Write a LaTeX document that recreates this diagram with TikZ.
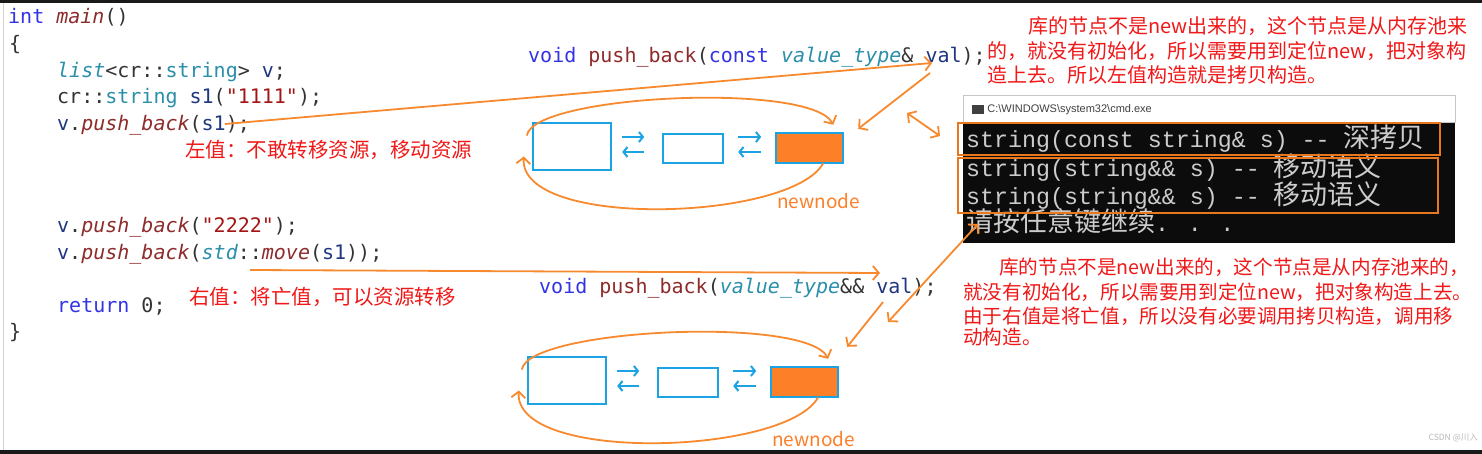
\documentclass[tikz,border=0pt]{standalone}
\usepackage{fontspec}
\setmonofont{DejaVu Sans Mono}
\newfontfamily\cjk{Noto Sans CJK SC}
\newfontfamily\cmdfont{Liberation Mono}
\newfontfamily\uifont{Liberation Sans}
\usetikzlibrary{positioning,arrows.meta,calc}
\definecolor{ckwc}{HTML}{3333E6}
\definecolor{cfnc}{HTML}{8E2B2B}
\definecolor{ctyc}{HTML}{2B8FAA}
\definecolor{cvarc}{HTML}{1F377F}
\definecolor{cstrc}{HTML}{A31515}
\definecolor{cpun}{HTML}{333333}
\definecolor{notered}{HTML}{F01818}
\definecolor{cellblue}{HTML}{1CA3E3}
\definecolor{nodeorange}{HTML}{FD7F28}
\definecolor{arrorange}{HTML}{F7892F}
\definecolor{hiorange}{HTML}{E8781E}
\definecolor{cmdblack}{HTML}{0C0C0C}
\definecolor{cmdgray}{HTML}{CCCCCC}
\newcommand\ckw[1]{\textcolor{ckwc}{#1}}
\newcommand\cfn[1]{\textcolor{cfnc}{\itshape #1}}
\newcommand\cfnup[1]{\textcolor{cfnc}{#1}}
\newcommand\cty[1]{\textcolor{ctyc}{#1}}
\newcommand\cvar[1]{\textcolor{cvarc}{#1}}
\newcommand\cstr[1]{\textcolor{cstrc}{#1}}
\newcommand\cmdcjk[1]{{\cjk\fontsize{27}{28}\selectfont #1}}
\tikzset{
  codeln/.style={anchor=base west,inner sep=0pt,text=cpun,
                 font=\ttfamily\fontsize{20}{24}\selectfont},
  note/.style={anchor=west,inner sep=0pt,text=notered,
               font=\cjk\fontsize{20.5}{24}\selectfont},
  notesm/.style={note,font=\cjk\fontsize{19.6}{24}\selectfont},
  cell/.style={draw=cellblue,line width=2.4pt,inner sep=0pt},
  newcell/.style={cell,fill=nodeorange},
  lnk/.style={draw=cellblue,line width=2pt,-{Straight Barb[length=4pt,width=10pt]}},
  oarr/.style={draw=arrorange,line width=1.8pt,-{Straight Barb[length=6pt,width=14pt]}},
  oboth/.style={oarr,{Straight Barb[length=6pt,width=14pt]}-{Straight Barb[length=6pt,width=14pt]}},
  cmdln/.style={anchor=base west,inner sep=0pt,text=cmdgray,
                font=\cmdfont\fontsize{23.3}{28}\selectfont},
  hilite/.style={draw=hiorange,line width=2pt},
  tag/.style={inner sep=0pt,text=nodeorange,font=\cjk\fontsize{19}{22}\selectfont},
}

\begin{document}
\begin{tikzpicture}[x=1pt,y=-1pt]
  \useasboundingbox[fill=white] (0,0) rectangle (1482,454);
  % screenshot frame
  \fill[black!90] (0,0) rectangle (1482,3);
  \fill[black!90] (0,450) rectangle (1482,454);
  \draw[gray!35] (3,3) -- (3,450);
  % --- source code ---
  \node[codeln] (c-main) at (8,24) {\ckw{int} \cfn{main}()};
  \node[codeln] (c-open) at (9,51) {\{};
  \node[codeln] (c-list) at (57,78) {\cty{\itshape list}<cr::\cty{string}> \cvar{v};};
  \node[codeln] (c-s1) at (57,104) {cr::\cty{string} \cvar{s1}(\cstr{\textquotedbl1111\textquotedbl});};
  \node[codeln] (c-pb1) at (57,131) {\cvar{v}.\cfn{push\_back}(\cvar{s1});};
  \node[codeln] (c-pb2) at (57,233) {\cvar{v}.\cfn{push\_back}(\cstr{\textquotedbl2222\textquotedbl});};
  \node[codeln] (c-pb3) at (57,259) {\cvar{v}.\cfn{push\_back}(\cty{\itshape std}::\cfn{move}(\cvar{s1}));};
  \node[codeln] (c-ret) at (57,312) {\ckw{return} 0;};
  \node[codeln] (c-close) at (9,338) {\}};
  % --- the two overloads ---
  \node[codeln] (decl-lv) at (528,63)
       {\ckw{void} \cfnup{push\_back}(\ckw{const} \cty{\itshape value\_type}\& \cvar{val});};
  \node[codeln] (decl-rv) at (539,293)
       {\ckw{void} \cfnup{push\_back}(\cty{\itshape value\_type}\&\& \cvar{val});};
  % --- notes ---
  \node[note] (n-lv) at (185,150) {左值：不敢转移资源，移动资源};
  \node[note] (n-rv) at (189,297) {右值：将亡值，可以资源转移};
  \node[note,font=\cjk\fontsize{20}{24}\selectfont] (n-up1) at (1028,26) {库的节点不是new出来的，这个节点是从内存池来};
  \node[note,font=\cjk\fontsize{20}{24}\selectfont] (n-up2) at (987,51) {的，就没有初始化，所以需要用到定位new，把对象构};
  \node[note,font=\cjk\fontsize{20}{24}\selectfont] (n-up3) at (987,75) {造上去。所以左值构造就是拷贝构造。};
  \node[notesm] (n-dn1) at (999,267) {库的节点不是new出来的，这个节点是从内存池来的，};
  \node[notesm] (n-dn2) at (963,292) {就没有初始化，所以需要用到定位new，把对象构造上去。};
  \node[notesm] (n-dn3) at (963,316) {由于右值是将亡值，所以没有必要调用拷贝构造，调用移};
  \node[notesm] (n-dn4) at (963,337) {动构造。};
  % --- list with new node, twice ---
  \foreach \lname/\dx/\dy/\tg in {up/0/0/29,dn/-5/234/33}{
    \begin{scope}[shift={(\dx,\dy)}]
      \node[cell,minimum width=78pt,minimum height=47pt] (\lname-a) at (572,146.5) {};
      \node[cell,minimum width=60pt,minimum height=29pt] (\lname-b) at (693,148.5) {};
      \node[newcell,minimum width=67pt,minimum height=30pt] (\lname-c) at (809.5,148) {};
      \node[tag,below=\tg pt of \lname-c,xshift=9pt] (\lname-tag) {newnode};
      \draw[lnk] ($(\lname-a.east)+(10,-9.5)$) -- ++(22,0);
      \draw[lnk] ($(\lname-a.east)+(32,5.5)$) -- ++(-22,0);
      \draw[lnk] ($(\lname-b.east)+(14,-11.5)$) -- ++(23,0);
      \draw[lnk] ($(\lname-b.east)+(37,3.5)$) -- ++(-23,0);
      \draw[oarr] ([xshift=-5pt,yshift=11pt]\lname-a.west)
        .. controls +(7,-41) and +(-22,-43) .. ([xshift=-11pt,yshift=7pt]\lname-c.north east);
      \draw[oarr] ([xshift=-21pt,yshift=1pt]\lname-c.south east)
        .. controls +(-32,58) and +(-5,73) .. ([xshift=-8pt,yshift=-10pt]\lname-a.west);
    \end{scope}
  }
  % --- console window ---
  \node[fill=cmdblack,minimum width=492pt,minimum height=120pt,anchor=north west,inner sep=0pt]
       (cmd-body) at (963,123) {};
  \node[draw=gray!45,fill=white,line width=0.8pt,minimum width=492pt,minimum height=27pt,
        anchor=south west,inner sep=0pt] (cmd-bar) at (963,123) {};
  \node[fill=black!75,minimum width=12pt,minimum height=9pt,inner sep=0pt] (cmd-icon) at (978,110) {};
  \node[right=3pt of cmd-icon,inner sep=0pt,text=black!75,font=\uifont\fontsize{11}{13}\selectfont]
       (cmd-name) {C:\textbackslash WINDOWS\textbackslash system32\textbackslash cmd.exe};
  \node[cmdln] (cmd-l1) at (966,148) {string(const string\& s) -{}- \cmdcjk{深拷贝}};
  \node[cmdln] (cmd-l2) at (966,177) {string(string\&\& s) -{}- \cmdcjk{移动语义}};
  \node[cmdln] (cmd-l3) at (966,205) {string(string\&\& s) -{}- \cmdcjk{移动语义}};
  \node[cmdln] (cmd-l4) at (966,232) {\cmdcjk{请按任意键继续}. . .};
  \draw[hilite] (958,123) rectangle (1440,155);
  \draw[hilite] (958,158) rectangle (1438,213);
  % --- connectors ---
  \coordinate (lv-src) at (225,124);
  \coordinate (lv-dst) at (932,63);
  \coordinate (lv-val) at (930,73);
  \coordinate (lv-p) at (907,113);
  \coordinate (lv-q) at (940,136);
  \coordinate (rv-src) at (250,270);
  \coordinate (rv-dst) at (880,273);
  \coordinate (rv-val) at (883,302);
  \coordinate (rv-p) at (888,322);
  \coordinate (rv-q) at (978,224);
  \draw[oarr] (lv-src) -- (lv-dst);
  \draw[oarr] (lv-val) -- ([shift={(14,-3)}]up-c.north east);
  \draw[oboth] (lv-p) -- (lv-q);
  \draw[oarr] (rv-src) -- (rv-dst);
  \draw[oarr] (rv-val) -- ([shift={(8,-19)}]dn-c.north east);
  \draw[oboth] (rv-p) -- (rv-q);
  % watermark
  \node[anchor=east,inner sep=0pt,text=gray!55,font=\cjk\fontsize{8.5}{10}\selectfont]
       (mark) at (1478,438) {CSDN @川入};
\end{tikzpicture}
\end{document}
